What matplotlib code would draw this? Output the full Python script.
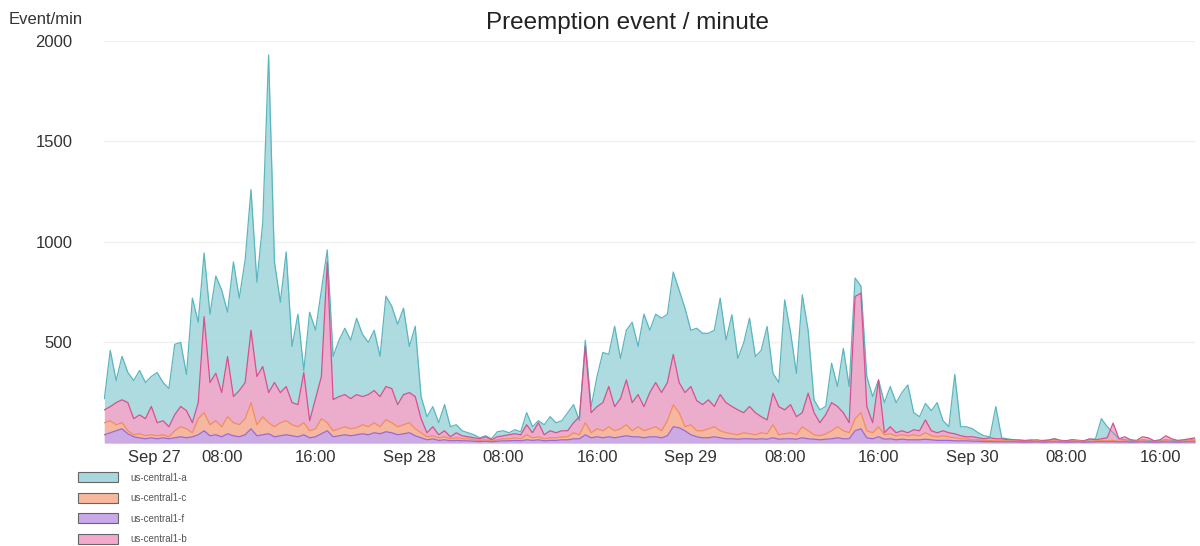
import matplotlib
matplotlib.use("Agg")
import matplotlib.pyplot as plt
import matplotlib.patches as mpatches
import pandas as pd

plt.rcParams['font.family'] = ['Liberation Sans', 'DejaVu Sans']

# one sample every 30 min, Sep 26 22:00 -> Sep 30 19:00
times = pd.date_range("2020-09-26 22:00", periods=187, freq="30min")

zone_a = [220, 460, 310, 430, 350, 310, 360, 300, 330, 350,
          300, 270, 490, 500, 340, 720, 600, 945, 640, 830,
          760, 650, 900, 720, 910, 1260, 800, 1095, 1930, 900,
          700, 950,
          480, 640, 360, 650, 560, 760, 960, 430, 510, 570,
          510, 620, 540, 500, 560, 430, 730, 680, 590, 670,
          480, 580, 230, 130, 180, 100, 190, 80, 90, 60,
          50,
          40, 25, 35, 20, 55, 60, 50, 65, 55, 150,
          80, 110, 90, 130, 100, 110, 150, 190, 110, 510,
          180, 330, 450, 440, 580, 420, 560, 600, 480, 640,
          560,
          640, 620, 640, 850, 760, 670, 560, 570, 545, 545,
          560, 720, 512, 637, 420, 496, 620, 429, 460, 579,
          346, 300, 711, 550, 346, 736, 560, 214, 164, 181,
          396,
          280, 470, 280, 820, 780, 330, 230, 313, 200, 280,
          200, 250, 288, 150, 130, 196, 160, 200, 110, 80,
          340, 80, 80, 70, 50, 35, 30, 180, 25, 20,
          15,
          15, 12, 15, 10, 12, 15, 20, 12, 10, 15,
          12, 10, 15, 20, 120, 80, 50, 20, 15, 12,
          10, 15, 12, 10, 12, 15, 12, 10, 12, 15,
          20]

zone_b = [164, 180, 200, 214, 200, 120, 139, 120, 181, 100,
          110, 80, 140, 181, 160, 100, 200, 628, 300, 346,
          250, 429, 230, 260, 300, 560, 330, 380, 250, 300,
          250, 280,
          200, 190, 350, 110, 220, 330, 900, 215, 230, 240,
          220, 240, 230, 240, 260, 230, 280, 270, 190, 240,
          250, 230, 120, 50, 80, 40, 60, 30, 50, 35,
          30,
          25, 20, 30, 15, 30, 35, 40, 45, 40, 90,
          50, 100, 40, 60, 50, 60, 60, 100, 130, 480,
          150, 180, 200, 280, 180, 220, 313, 200, 240, 180,
          250,
          300, 250, 300, 440, 300, 250, 280, 210, 190, 214,
          181, 240, 200, 181, 164, 150, 181, 150, 130, 114,
          247, 180, 164, 190, 130, 150, 247, 150, 100, 140,
          200,
          181, 150, 100, 728, 745, 181, 100, 313, 50, 80,
          50, 60, 50, 65, 60, 114, 60, 50, 60, 50,
          45, 35, 30, 30, 25, 20, 25, 20, 20, 15,
          15,
          12, 10, 12, 15, 10, 12, 20, 12, 10, 15,
          12, 10, 20, 15, 20, 25, 98, 20, 30, 15,
          12, 30, 25, 10, 15, 35, 20, 12, 15, 20,
          25]

zone_c = [100, 110, 90, 100, 60, 40, 45, 35, 40, 35,
          40, 30, 60, 80, 70, 50, 120, 150, 90, 110,
          80, 130, 100, 90, 120, 200, 90, 130, 100, 80,
          100, 110,
          90, 80, 100, 60, 70, 120, 100, 60, 70, 80,
          70, 75, 90, 80, 100, 80, 115, 100, 80, 90,
          100, 70, 50, 30, 35, 25, 30, 20, 25, 20,
          20,
          15, 12, 15, 10, 15, 20, 20, 25, 20, 40,
          25, 30, 20, 25, 25, 30, 30, 50, 40, 100,
          50, 70, 60, 80, 60, 70, 90, 60, 80, 60,
          70,
          80, 60, 110, 189, 150, 80, 90, 60, 60, 70,
          80, 60, 50, 45, 40, 50, 45, 40, 50, 45,
          90, 40, 45, 50, 40, 80, 60, 40, 35, 45,
          60,
          80, 60, 50, 120, 150, 60, 50, 80, 40, 45,
          35, 40, 35, 40, 35, 50, 35, 30, 35, 30,
          25, 20, 20, 15, 15, 12, 12, 10, 10, 10,
          8,
          8, 6, 8, 10, 6, 8, 10, 8, 6, 8,
          10, 6, 8, 10, 12, 10, 12, 8, 10, 6,
          8, 10, 8, 6, 8, 10, 8, 6, 8, 10,
          12]

zone_f = [40, 50, 60, 70, 45, 30, 25, 20, 25, 20,
          25, 20, 25, 30, 25, 30, 40, 60, 35, 40,
          30, 45, 35, 30, 40, 70, 35, 40, 45, 30,
          35, 40,
          35, 30, 40, 25, 30, 45, 60, 30, 35, 40,
          35, 40, 45, 40, 50, 45, 55, 50, 40, 45,
          50, 35, 25, 15, 20, 12, 15, 10, 12, 10,
          10,
          8, 6, 8, 5, 8, 10, 10, 12, 10, 15,
          12, 15, 10, 12, 12, 15, 15, 20, 20, 40,
          25, 30, 25, 30, 25, 30, 35, 30, 30, 25,
          30,
          30, 25, 35, 80, 75, 60, 40, 30, 25, 25,
          30, 25, 20, 20, 18, 20, 20, 18, 20, 18,
          25, 18, 20, 20, 18, 25, 20, 18, 15, 18,
          20,
          25, 20, 20, 60, 70, 25, 20, 30, 18, 20,
          15, 18, 15, 15, 15, 18, 15, 12, 12, 12,
          10, 10, 10, 8, 8, 6, 6, 5, 5, 5,
          5,
          4, 3, 4, 5, 3, 4, 5, 4, 3, 4,
          5, 3, 4, 5, 6, 5, 6, 4, 5, 3,
          4, 5, 4, 3, 4, 5, 4, 3, 4, 5,
          6]

# name, values, fill colour, line colour  (drawn in this order, overlapping)
series = [("us-central1-a", zone_a, "#a6d8dd", "#5ab6bf"),
          ("us-central1-b", zone_b, "#f2a9cc", "#d8508f"),
          ("us-central1-c", zone_c, "#f7b89e", "#f28e58"),
          ("us-central1-f", zone_f, "#c9a9ea", "#9a6ad4")]
legend_order = ["us-central1-a", "us-central1-c", "us-central1-f", "us-central1-b"]

fig = plt.figure(figsize=(12, 5.46), dpi=100)
ax = fig.add_axes([0.087, 0.189, 0.909, 0.736])

for name, vals, fc, lc in series:
    ax.fill_between(times, 0, vals, color=fc, alpha=0.92, linewidth=0)
    ax.plot(times, vals, color=lc, linewidth=0.9)

ax.set_ylim(0, 2000)
ax.set_xlim(times[0], times[-1])
ax.set_yticks([500, 1000, 1500, 2000])
ax.grid(axis='y', color='#f0f0f0', linewidth=1)
ax.set_axisbelow(True)
for s in ax.spines.values():
    s.set_visible(False)

# x ticks every 8 hours, day names at midnight
ticks = pd.date_range("2020-09-27 00:00", "2020-09-30 16:00", freq="8h")
ax.set_xticks(ticks)
ax.set_xticklabels([t.strftime("Sep %d") if t.hour == 0 else t.strftime("%H:%M") for t in ticks])
ax.tick_params(axis='both', length=0, labelsize=12, labelcolor='#333333')
ax.tick_params(axis='y', pad=23)
ax.tick_params(axis='x', pad=5)
ax.xaxis.get_major_ticks()[0].label1.set_horizontalalignment('left')

fig.text(0.523, 0.958, "Preemption event / minute", ha='center', va='center', fontsize=17.5, color='#222222')
fig.text(0.007, 0.965, "Event/min", ha='left', va='center', fontsize=12, color='#333333')

# legend below the chart
colors = {name: (fc, lc) for name, vals, fc, lc in series}
handles = [mpatches.Patch(facecolor=colors[n][0], edgecolor='#666666', linewidth=0.8, label=n)
           for n in legend_order]
fig.legend(handles=handles, loc='upper left', bbox_to_anchor=(0.062, 0.142), frameon=False,
           fontsize=7, labelcolor='#555555', handlelength=4.1, handleheight=1.2,
           labelspacing=1.05, handletextpad=1.3, borderaxespad=0)

plt.savefig("out.png")
